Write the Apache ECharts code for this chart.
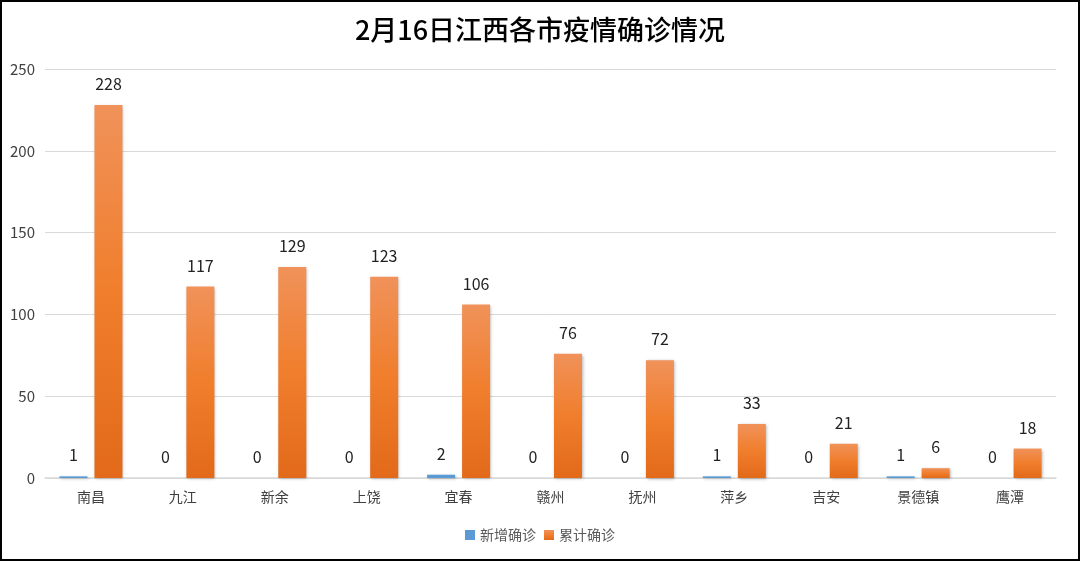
<!DOCTYPE html>
<html><head><meta charset="utf-8">
<script src="https://cdn.jsdelivr.net/npm/echarts@6/dist/echarts.min.js"></script>
<style>
html,body{margin:0;padding:0;background:#fff;}
#c{width:1080px;height:561px;}
#f{position:absolute;left:0;top:0;width:1080px;height:561px;box-sizing:border-box;border:2px solid #000;pointer-events:none;}
</style></head>
<body><div id="c"></div><div id="f"></div>
<script>
const categories = ['南昌','九江','新余','上饶','宜春','赣州','抚州','萍乡','吉安','景德镇','鹰潭'];
const newCases = [1,0,0,0,2,0,0,1,0,1,0];
const totalCases = [228,117,129,123,106,76,72,33,21,6,18];
const yTicks = [0,50,100,150,200,250];

const FONT = '"Noto Sans CJK SC", "Noto Sans", sans-serif';
const chart = echarts.init(document.getElementById('c'));
const labelCfg = {show:true, position:'top', distance:13, color:'#222', fontSize:16, fontFamily:FONT};
chart.setOption({
  animation:false,
  title:{text:'2月16日江西各市疫情确诊情况', left:'center', top:11,
    textStyle:{fontSize:27, fontWeight:500, color:'#000', fontFamily:FONT}},
  legend:{bottom:14, left:'center', itemWidth:10, itemHeight:10, itemGap:8,
    textStyle:{fontSize:14, color:'#595959', fontFamily:FONT},
    data:[{name:'新增确诊',icon:'rect'},{name:'累计确诊',icon:'rect'}]},
  grid:{left:45, right:24, top:69, bottom:83, containLabel:false},
  xAxis:{type:'category', data:categories,
    axisLine:{lineStyle:{color:'#d9d9d9', width:1.5}}, axisTick:{show:false},
    axisLabel:{color:'#404040', fontSize:14, margin:12, fontFamily:FONT}},
  yAxis:{type:'value', min:yTicks[0], max:yTicks[yTicks.length-1], interval:50,
    axisLine:{show:false}, axisTick:{show:false},
    splitLine:{lineStyle:{color:'#d9d9d9', width:1}},
    axisLabel:{color:'#404040', fontSize:15, margin:10, fontFamily:FONT}},
  series:[
    {name:'新增确诊', type:'bar', data:newCases, barWidth:28, barGap:'25%',
     itemStyle:{color:'#5b9bd5', shadowColor:'rgba(0,0,0,0.25)', shadowBlur:3, shadowOffsetX:1, shadowOffsetY:1},
     label:labelCfg},
    {name:'累计确诊', type:'bar', data:totalCases, barWidth:28,
     itemStyle:{color:new echarts.graphic.LinearGradient(0,0,0,1,[{offset:0,color:'#f0925a'},{offset:0.5,color:'#f07e2c'},{offset:1,color:'#e26a1a'}]),
       shadowColor:'rgba(0,0,0,0.3)', shadowBlur:3, shadowOffsetX:1, shadowOffsetY:1},
     label:labelCfg}
  ]
});
</script></body></html>
